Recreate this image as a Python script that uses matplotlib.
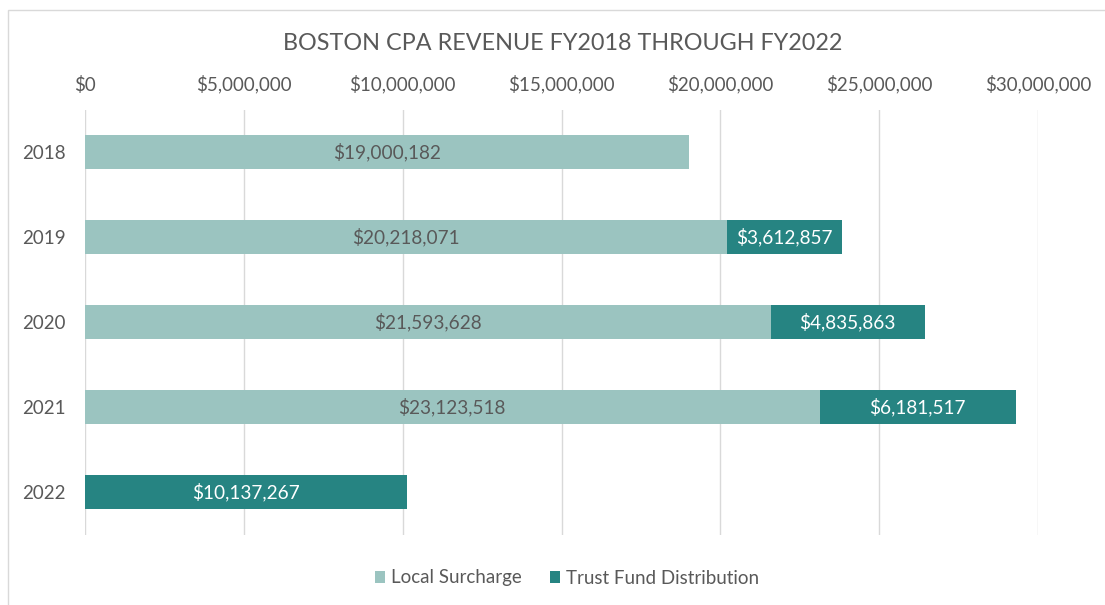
import matplotlib.pyplot as plt
from matplotlib.patches import Rectangle
from matplotlib.ticker import FuncFormatter

plt.rcParams['font.family'] = ['Lato', 'DejaVu Sans']

years = ['2018', '2019', '2020', '2021', '2022']
local_surcharge = [19000182, 20218071, 21593628, 23123518, 0]
trust_fund = [0, 3612857, 4835863, 6181517, 10137267]

light = '#9BC4C0'
dark = '#268482'
text_col = '#595959'

fig = plt.figure(figsize=(11.05, 6.05), dpi=100)
ax = fig.add_axes([85 / 1105, 70.5 / 605, 953 / 1105, 425 / 605])

# chart border
fig.patches.append(Rectangle((8 / 1105, -0.1), 1.2, 1.1 - 10 / 605,
                             transform=fig.transFigure, fill=False,
                             edgecolor='#D9D9D9', linewidth=1))

pos = list(range(len(years)))
b1 = ax.barh(pos, local_surcharge, height=0.4, color=light, label='Local Surcharge')
b2 = ax.barh(pos, trust_fund, height=0.4, left=local_surcharge, color=dark,
             label='Trust Fund Distribution')

for bars, vals, col in [(b1, local_surcharge, text_col), (b2, trust_fund, 'white')]:
    for rect, v in zip(bars, vals):
        if v > 0:
            ax.text(rect.get_x() + rect.get_width() / 2, rect.get_y() + rect.get_height() / 2,
                    '${:,.0f}'.format(v), ha='center', va='center', color=col, fontsize=13.7)

ax.set_xlim(0, 30000000)
ax.set_ylim(len(years) - 0.5, -0.5)
ax.set_yticks(pos)
ax.set_yticklabels(years)
ax.set_xticks(range(0, 30000001, 5000000))
ax.xaxis.set_major_formatter(FuncFormatter(lambda x, p: '${:,.0f}'.format(x)))
ax.xaxis.tick_top()
ax.tick_params(axis='both', length=0, labelsize=13.5, colors=text_col)
ax.tick_params(axis='x', pad=11.5)
ax.tick_params(axis='y', pad=14)
ax.grid(axis='x', color='#D9D9D9', linewidth=1)
ax.set_axisbelow(True)
for s in ax.spines.values():
    s.set_visible(False)

fig.text(563 / 1105, 1 - 43 / 605, 'BOSTON CPA REVENUE FY2018 THROUGH FY2022',
         ha='center', va='center', fontsize=16.8, color=text_col)

fig.legend(handles=[b1, b2], loc='center', bbox_to_anchor=(567 / 1105, 1 - 578 / 605),
           ncol=2, frameon=False, fontsize=13.5, labelcolor=text_col,
           handlelength=0.55, handleheight=0.55, handletextpad=0.3, columnspacing=1.5)

fig.savefig('out.png', dpi=100)
